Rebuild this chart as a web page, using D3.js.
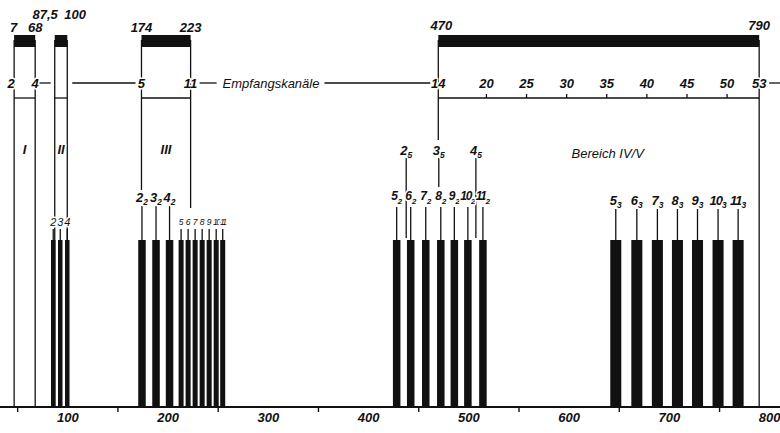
<!DOCTYPE html>
<html>
<head>
<meta charset="utf-8">
<script src="https://cdn.jsdelivr.net/npm/d3@7"></script>
<style>
  body { margin: 0; background: #fff; }
  svg text { font-family: "Liberation Sans", Arial, sans-serif; font-style: italic; fill: #111; }
  .halo { stroke: #fff; stroke-width: 3px; paint-order: stroke; stroke-linejoin: round; }
</style>
</head>
<body>
<svg id="chart" width="780" height="433"></svg>
<script>
// Frequenzbereiche in MHz
const bandNames = ["I", "II", "III", "Bereich IV/V"];
const bandLow = [47, 87.5, 174, 470];
const bandHigh = [68, 100, 223, 790];
const bandLowText = ["47", "87,5", "174", "470"];
const bandHighText = ["68", "100", "223", "790"];

// Empfangskanäle an den Bereichsgrenzen
const edgeChannels = ["2", "4", "5", "11", "14", "53"];
const edgeFreqs = [47, 68, 174, 223, 470, 790];
const uhfChannels = ["20", "25", "30", "35", "40", "45", "50"];
const uhfFreqs = [518, 558, 598, 638, 678, 718, 758];

// Oszillatorfrequenzen (Grundwelle) und Oberwellen, Mitte und Breite in MHz
const oscBand1 = ["2", "3", "4"];
const oscBand1Freq = [86, 93, 100];
const oscBand1Width = 4.5;

const oscBand3 = ["5", "6", "7", "8", "9", "10", "11"];
const oscBand3Freq = [213.5, 220.5, 227.5, 234.5, 241.5, 248.5, 255];
const oscBand3Width = 5;

const harm2Band1 = ["2", "3", "4"];
const harm2Band1Freq = [174.5, 188.5, 202];
const harm2Band1Width = 7.5;

const harm2Band3 = ["5", "6", "7", "8", "9", "10", "11"];
const harm2Band3Freq = [428.5, 442.5, 457.5, 472.5, 486, 499.5, 514.5];
const harm2Band3Width = 7.5;

const harm3Band3 = ["5", "6", "7", "8", "9", "10", "11"];
const harm3Band3Freq = [647, 668, 688.5, 708.5, 728.5, 749, 769];
const harm3Band3Width = 11;

const harm5Band1 = ["2", "3", "4"];
const harm5Band1Freq = [438, 470.5, 507.5];

const axisLabels = [100, 200, 300, 400, 500, 600, 700, 800];
const axisMinor = [50, 150, 250, 350, 450, 550, 650, 750];

const ink = "#111";
const svg = d3.select("#chart");
const x = d3.scaleLinear().domain([0, 800]).range([-33, 769.2]);
const y = d3.scaleLinear().domain([0, 1]).range([407, 240]);

// linker Bildrand ist im Original abgeschnitten
svg.append("defs").append("clipPath").attr("id", "crop")
  .append("rect").attr("x", 10.5).attr("y", 0).attr("width", 780).attr("height", 433);

const lines = svg.append("g").attr("stroke", ink).attr("stroke-width", 1.3);
const marks = svg.append("g").attr("fill", ink);
const texts = svg.append("g");

function label(xp, yp, main, sub, size, anchor, weight, spacing) {
  const t = texts.append("text")
    .attr("class", "halo")
    .attr("x", xp).attr("y", yp)
    .attr("dy", "0.35em")
    .attr("text-anchor", anchor || "middle")
    .style("font-size", size + "px")
    .style("font-weight", weight || "bold");
  t.append("tspan").style("letter-spacing", (spacing || 0) + "px").text(main);
  if (sub) t.append("tspan").attr("dy", size * 0.3).style("font-size", (size * 0.65) + "px").text(sub);
  return t;
}

// bottom axis
lines.append("line").attr("x1", 0).attr("x2", 780).attr("y1", y(0)).attr("y2", y(0)).attr("stroke-width", 2);
const ax = svg.append("g").attr("transform", `translate(0,${y(0)})`)
  .call(d3.axisBottom(x).tickValues(axisLabels).tickSize(0).tickPadding(6).tickFormat(d3.format("d")));
ax.select(".domain").remove();
ax.selectAll("text").style("font-size", "13px").style("font-weight", "bold");
const mi = svg.append("g").attr("transform", `translate(0,${y(0)})`)
  .call(d3.axisBottom(x).tickValues(axisMinor).tickSize(5).tickFormat(""));
mi.select(".domain").remove();
mi.selectAll("line").attr("stroke", ink).attr("stroke-width", 1.4);

// Frequenzbereiche oben
bandLow.forEach((lo, i) => {
  const hi = bandHigh[i];
  marks.append("rect").attr("x", x(lo)).attr("y", 35).attr("width", x(hi) - x(lo)).attr("height", 12);
  // senkrechte Grenzlinien
  let endLo = y(0), endHi = y(0);
  if (i === 2) { endLo = 190; endHi = 208; }
  if (i === 3) { endLo = 140; }
  lines.append("line").attr("x1", x(lo)).attr("x2", x(lo)).attr("y1", 40).attr("y2", endLo);
  lines.append("line").attr("x1", x(hi)).attr("x2", x(hi)).attr("y1", 40).attr("y2", endHi);
  // Klammer unter den Kanalnummern
  lines.append("line").attr("x1", x(lo)).attr("x2", x(hi)).attr("y1", 98).attr("y2", 98);
  // Beschriftung MHz
  if (i === 1) {
    label(x(lo) + 3, 14, bandLowText[i], null, 13, "end");
    label(x(hi) - 3, 14, bandHighText[i], null, 13, "start");
  } else if (i === 0) {
    label(x(lo) + 3, 27, bandLowText[i], null, 13, "end").attr("clip-path", "url(#crop)");
    label(x(hi), 27, bandHighText[i], null, 13);
  } else {
    label(x(lo) + (i === 3 ? 3 : 0), i === 3 ? 25 : 27, bandLowText[i], null, 13);
    label(x(hi), i === 3 ? 25 : 27, bandHighText[i], null, 13);
  }
  const mid = (x(lo) + x(hi)) / 2 + (i === 3 ? 9 : 0);
  label(mid, i === 3 ? 153 : 149, bandNames[i], null, 13, "middle", i === 3 ? "normal" : "bold");
});

// Zeile Empfangskanäle
const row = 83;
const title = label(x(223) + 32, row, "Empfangskanäle", null, 13, "start", "normal");
const titleEnd = x(223) + 32 + title.node().getComputedTextLength();
[[x(68) + 4, x(87.5) - 4], [x(100) + 5, x(174) - 6], [x(223) + 9, x(223) + 26],
 [titleEnd + 5, x(470) - 8], [x(790) + 10, 780]].forEach(s => {
  lines.append("line").attr("x1", s[0]).attr("x2", s[1]).attr("y1", row).attr("y2", row);
});
edgeChannels.forEach((c, i) => label(x(edgeFreqs[i]) + (i === 0 ? -3 : 0), row, c, null, 13));
uhfChannels.forEach((c, i) => {
  lines.append("line").attr("x1", x(uhfFreqs[i])).attr("x2", x(uhfFreqs[i])).attr("y1", 98).attr("y2", 94);
  label(x(uhfFreqs[i]), row, c, null, 13);
});

// Oszillatorbalken mit Beschriftung
function series(names, freqs, width, sub, labelY, leaderTop, size, weight, spacing) {
  freqs.forEach((f, i) => {
    marks.append("rect")
      .attr("x", x(f - width / 2)).attr("y", y(1))
      .attr("width", x(f + width / 2) - x(f - width / 2)).attr("height", y(0) - y(1));
    lines.append("line").attr("x1", x(f)).attr("x2", x(f)).attr("y1", leaderTop).attr("y2", y(1));
    label(x(f), labelY, names[i], sub, size, "middle", weight, names[i].length > 1 ? spacing : 0);
  });
}
series(oscBand1, oscBand1Freq, oscBand1Width, null, 222, 229, 11, "normal", 0);
series(oscBand3, oscBand3Freq, oscBand3Width, null, 222, 229, 8.5, "normal", -1.6);
series(harm2Band1, harm2Band1Freq, harm2Band1Width, "2", 197, 206, 13, "bold", 0);
series(harm2Band3, harm2Band3Freq, harm2Band3Width, "2", 196, 207, 12, "bold", -1.3);
series(harm3Band3, harm3Band3Freq, harm3Band3Width, "3", 200, 209, 13, "bold", -1);

// 5. Oberwellen: nur Markierungen
harm5Band1Freq.forEach((f, i) => {
  const hit = harm2Band3Freq.some(g => Math.abs(g - f) < 4);
  lines.append("line").attr("x1", x(f)).attr("x2", x(f)).attr("y1", 158).attr("y2", hit ? 187 : y(1) - 2);
  label(x(f), 150, harm5Band1[i], "5", 13);
});
</script>
</body>
</html>
